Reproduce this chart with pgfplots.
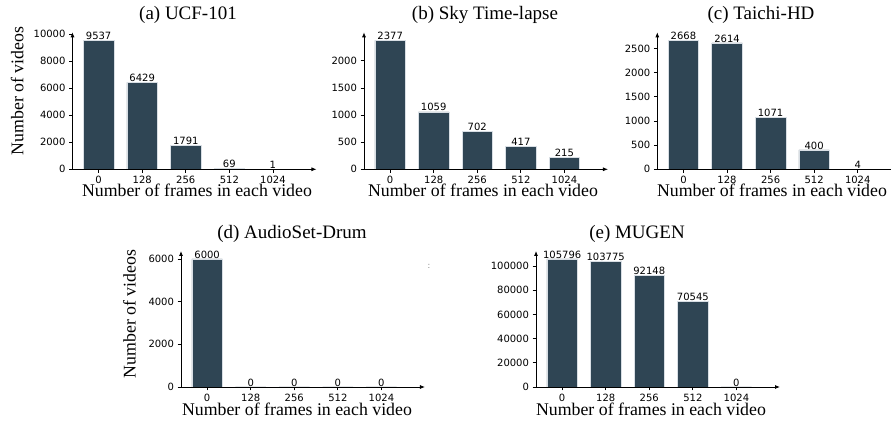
\documentclass[border=0pt]{standalone}
\usepackage{pgfplots}
\pgfplotsset{compat=1.18}
\usepackage{pgfplotstable}
\usetikzlibrary{arrows.meta}
\usepackage{fontspec}
\setmainfont{Liberation Serif}
\newfontfamily\djv{DejaVu Sans}
\definecolor{barc}{HTML}{2F4554}
\definecolor{edgec}{HTML}{D8DEE4}

\pgfplotstableread{
x y lab
0 9537 9537
1 6429 6429
2 1791 1791
3 69 69
4 1 1
}\dataA
\pgfplotstableread{
x y lab
0 2377 2377
1 1059 1059
2 702 702
3 417 417
4 215 215
}\dataB
\pgfplotstableread{
x y lab
0 2668 2668
1 2614 2614
2 1071 1071
3 400 400
4 4 4
}\dataC
\pgfplotstableread{
x y lab
0 6000 6000
1 0 0
2 0 0
3 0 0
4 0 0
}\dataD
\pgfplotstableread{
x y lab
0 105796 105796
1 103775 103775
2 92148 92148
3 70545 70545
4 0 0
}\dataE

\pgfplotsset{
  panel/.style={
    scale only axis, axis lines=left, axis on top,
    axis line style={line width=0.8pt, -{Latex[length=5pt,width=4pt]}},
    xmin=-0.6, xmax=5.0, ymin=0,
    xtick={0,1,2,3,4}, xticklabels={0,128,256,512,1024},
    tick align=outside, major tick length=3.5pt,
    every tick/.style={line width=0.8pt, black},
    ticklabel style={font=\djv\fontsize{10}{12}\selectfont},
    /pgf/number format/assume math mode=true,
    /pgf/number format/fixed, /pgf/number format/1000 sep={},
    scaled y ticks=false,
    clip=false,
    width=244pt,
    anchor=south west,
  },
  bars/.style={
    ybar, bar width=0.7, fill=barc, draw=edgec, line width=0.6pt,
    nodes near coords, point meta=explicit symbolic,
    nodes near coords style={font=\djv\fontsize{10}{12}\selectfont, inner sep=0.5pt, anchor=south, black},
  },
}
\newcommand{\ttl}{\fontsize{19}{22}\selectfont}
\newcommand{\lbl}{\fontsize{17.8}{20}\selectfont}

\begin{document}
\begin{tikzpicture}[x=1pt,y=1pt]
\useasboundingbox (0,0) rectangle (891,422);

% (a)
\begin{axis}[panel, at={(72.5pt,252.7pt)}, height=137pt, ymax=10133,
  ytick={0,2000,4000,6000,8000,10000}]
\addplot[bars] table[x=x,y=y,meta=lab]{\dataA};
\end{axis}
% (b)
\begin{axis}[panel, at={(364pt,252.7pt)}, height=137pt, ymax=2526,
  ytick={0,500,1000,1500,2000}]
\addplot[bars] table[x=x,y=y,meta=lab]{\dataB};
\end{axis}
% (c)
\begin{axis}[panel, at={(657.3pt,252.7pt)}, height=137pt, ymax=2835,
  ytick={0,500,1000,1500,2000,2500}]
\addplot[bars] table[x=x,y=y,meta=lab]{\dataC};
\end{axis}
% (d)
\begin{axis}[panel, at={(181pt,35pt)}, height=136pt, ymax=6375,
  ytick={0,2000,4000,6000}]
\addplot[bars] table[x=x,y=y,meta=lab]{\dataD};
\end{axis}
% (e)
\begin{axis}[panel, at={(536pt,35pt)}, height=136pt, ymax=112408,
  ytick={0,20000,40000,60000,80000,100000}]
\addplot[bars] table[x=x,y=y,meta=lab]{\dataE};
\end{axis}

% titles
\node[anchor=base, inner sep=0pt, font=\ttl] at (188pt,402pt) {(a) UCF-101};
\node[anchor=base, inner sep=0pt, font=\ttl] at (485pt,402pt) {(b) Sky Time-lapse};
\node[anchor=base, inner sep=0pt, font=\ttl] at (761pt,402pt) {(c) Taichi-HD};
\node[anchor=base, inner sep=0pt, font=\ttl] at (292pt,183pt) {(d) AudioSet-Drum};
\node[anchor=base, inner sep=0pt, font=\ttl] at (637pt,183pt) {(e) MUGEN};
% x labels
\node[anchor=base, inner sep=0pt, font=\lbl] at (197pt,225pt) {Number of frames in each video};
\node[anchor=base, inner sep=0pt, font=\lbl] at (483pt,225pt) {Number of frames in each video};
\node[anchor=base, inner sep=0pt, font=\lbl] at (772pt,225pt) {Number of frames in each video};
\node[anchor=base, inner sep=0pt, font=\lbl] at (297pt,6pt) {Number of frames in each video};
\node[anchor=base, inner sep=0pt, font=\lbl] at (651pt,6pt) {Number of frames in each video};
% y labels
\node[anchor=base, rotate=90, inner sep=0pt, font=\lbl] at (23.3pt,331pt) {Number of videos};
\node[anchor=base, rotate=90, inner sep=0pt, font=\lbl] at (135.5pt,108pt) {Number of videos};
% stray mark
\node[inner sep=0pt, text=gray, font=\djv\fontsize{8}{9}\selectfont] at (429pt,156pt) {:};
\end{tikzpicture}
\end{document}
